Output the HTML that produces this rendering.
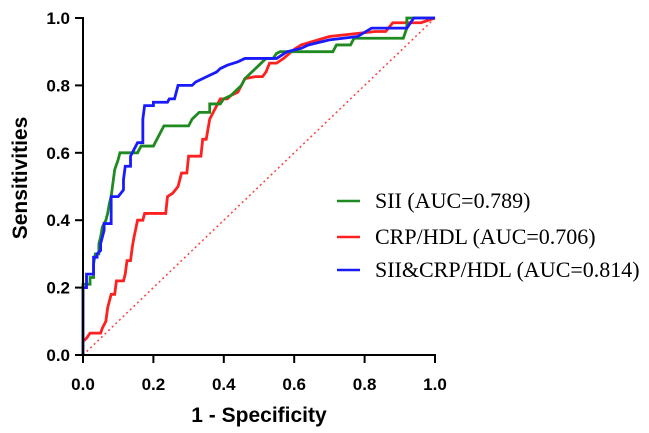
<!DOCTYPE html>
<html><head><meta charset="utf-8"><style>
html,body{margin:0;padding:0;background:#fff;}
svg{display:block;}
</style></head><body>
<svg id="chart" width="649" height="433" xmlns="http://www.w3.org/2000/svg">
<g id="plot"></g>
<g id="axes"></g>
<text x="259" y="422" text-anchor="middle" font-family="Liberation Sans, sans-serif" font-weight="bold" font-size="21">1 - Specificity</text>
<text transform="translate(27,178) rotate(-90)" text-anchor="middle" font-family="Liberation Sans, sans-serif" font-weight="bold" font-size="21">Sensitivities</text>
<g font-family="Liberation Serif, serif" font-size="22">
<g><line x1="337" y1="201" x2="360" y2="201" stroke="#1f8a1f" stroke-width="2.5"/><text x="375" y="208">SII (AUC=0.789)</text></g>
<g><line x1="337" y1="237" x2="360" y2="237" stroke="#ff2020" stroke-width="2.5"/><text x="375" y="244">CRP/HDL (AUC=0.706)</text></g>
<g><line x1="337" y1="270" x2="360" y2="270" stroke="#1a1aff" stroke-width="2.5"/><text x="375" y="277">SII&amp;CRP/HDL (AUC=0.814)</text></g>
</g>
</svg>
<script>
const ticks = [0, 0.2, 0.4, 0.6, 0.8, 1.0];
const tickLabels = ["0.0", "0.2", "0.4", "0.6", "0.8", "1.0"];
const siiFpr = [0,0,0.02,0.02,0.03,0.03,0.035,0.045,0.045,0.05,0.055,0.065,0.07,0.075,0.08,0.085,0.09,0.1,0.105,0.155,0.165,0.2,0.21,0.22,0.23,0.3,0.31,0.33,0.36,0.36,0.39,0.4,0.42,0.44,0.45,0.46,0.48,0.5,0.52,0.54,0.55,0.56,0.71,0.72,0.76,0.77,0.91,0.92,0.92,1];
const siiTpr = [0,0.21,0.21,0.23,0.23,0.27,0.30,0.30,0.33,0.35,0.38,0.40,0.42,0.45,0.47,0.51,0.55,0.58,0.60,0.60,0.62,0.62,0.64,0.66,0.68,0.68,0.70,0.72,0.72,0.745,0.745,0.76,0.77,0.79,0.80,0.82,0.84,0.86,0.88,0.88,0.895,0.90,0.90,0.92,0.92,0.94,0.94,0.97,1,1];
const crpFpr = [0,0,0.01,0.02,0.05,0.055,0.065,0.07,0.08,0.09,0.095,0.115,0.12,0.125,0.135,0.14,0.145,0.155,0.17,0.175,0.235,0.24,0.255,0.27,0.28,0.295,0.3,0.335,0.34,0.35,0.36,0.37,0.38,0.39,0.41,0.42,0.44,0.45,0.46,0.49,0.51,0.52,0.53,0.55,0.57,0.6,0.62,0.70,0.83,0.86,0.88,0.96,1];
const crpTpr = [0,0.04,0.05,0.065,0.065,0.08,0.10,0.14,0.18,0.18,0.22,0.22,0.24,0.28,0.28,0.32,0.35,0.40,0.40,0.42,0.42,0.47,0.48,0.50,0.54,0.54,0.59,0.59,0.64,0.64,0.70,0.72,0.74,0.76,0.76,0.77,0.78,0.80,0.82,0.826,0.826,0.84,0.866,0.866,0.88,0.907,0.92,0.945,0.96,0.96,0.986,0.986,1];
const comFpr = [0,0,0.01,0.01,0.03,0.03,0.04,0.04,0.05,0.05,0.055,0.06,0.06,0.08,0.08,0.1,0.115,0.115,0.12,0.135,0.135,0.145,0.155,0.17,0.17,0.175,0.2,0.2,0.24,0.245,0.26,0.265,0.27,0.31,0.32,0.34,0.36,0.38,0.39,0.41,0.44,0.46,0.55,0.58,0.62,0.64,0.70,0.78,0.82,0.92,0.94,1];
const comTpr = [0,0.2,0.2,0.24,0.24,0.29,0.29,0.30,0.31,0.33,0.35,0.37,0.39,0.39,0.47,0.47,0.49,0.52,0.56,0.56,0.59,0.61,0.63,0.63,0.70,0.74,0.74,0.75,0.75,0.76,0.76,0.78,0.80,0.80,0.81,0.82,0.83,0.84,0.85,0.86,0.87,0.88,0.88,0.90,0.91,0.92,0.935,0.945,0.97,0.97,1,1];

const NS = "http://www.w3.org/2000/svg";
const X0 = 83, XW = 352, Y0 = 355, YH = 337;
function xScale(v){ return X0 + v * XW; }
function yScale(v){ return Y0 - v * YH; }
const plot = document.getElementById('plot');
const axes = document.getElementById('axes');

const diag = document.createElementNS(NS, 'line');


diag.setAttribute('x1', xScale(0)); diag.setAttribute('y1', yScale(0));
diag.setAttribute('x2', xScale(1)); diag.setAttribute('y2', yScale(1));
diag.setAttribute('stroke', '#ff4040'); diag.setAttribute('stroke-width', '1.5');
diag.setAttribute('stroke-dasharray', '2,3');
plot.appendChild(diag);

function drawCurve(fpr, tpr, color, name){
  const p = document.createElementNS(NS, 'polyline');
  
  
  p.setAttribute('points', fpr.map((f,i)=>xScale(f)+','+yScale(tpr[i])).join(' '));
  p.setAttribute('fill', 'none'); p.setAttribute('stroke', color);
  p.setAttribute('stroke-width', '2.8'); p.setAttribute('stroke-linejoin', 'miter');
  plot.appendChild(p);
}
drawCurve(crpFpr, crpTpr, '#ff2020', 'curve-crp-hdl');
drawCurve(siiFpr, siiTpr, '#1f8a1f', 'curve-sii');
drawCurve(comFpr, comTpr, '#1a1aff', 'curve-combined');

const xa = document.createElementNS(NS, 'path');


xa.setAttribute('d', `M${X0-8},${Y0} H${xScale(1)+1}`);
xa.setAttribute('stroke', '#000'); xa.setAttribute('stroke-width', '2');
axes.appendChild(xa);
const ya = document.createElementNS(NS, 'path');


ya.setAttribute('d', `M${X0},${Y0+8} V${yScale(1)-1}`);
ya.setAttribute('stroke', '#000'); ya.setAttribute('stroke-width', '2');
axes.appendChild(ya);

ticks.forEach((t,i)=>{
  const tx = document.createElementNS(NS, 'line');
  
  
  tx.setAttribute('x1', xScale(t)); tx.setAttribute('x2', xScale(t));
  tx.setAttribute('y1', Y0); tx.setAttribute('y2', Y0+8);
  tx.setAttribute('stroke', '#000'); tx.setAttribute('stroke-width', '2');
  axes.appendChild(tx);
  const lx = document.createElementNS(NS, 'text');
  
  
  lx.setAttribute('x', xScale(t)); lx.setAttribute('y', Y0+35);
  lx.setAttribute('text-anchor', 'middle');
  lx.setAttribute('font-family', 'Liberation Sans, sans-serif');
  lx.setAttribute('font-weight', 'bold'); lx.setAttribute('font-size', '17');
  lx.textContent = tickLabels[i];
  axes.appendChild(lx);
  const ty = document.createElementNS(NS, 'line');
  
  
  ty.setAttribute('x1', X0-8); ty.setAttribute('x2', X0);
  ty.setAttribute('y1', yScale(t)); ty.setAttribute('y2', yScale(t));
  ty.setAttribute('stroke', '#000'); ty.setAttribute('stroke-width', '2');
  axes.appendChild(ty);
  const ly = document.createElementNS(NS, 'text');
  
  
  ly.setAttribute('x', X0-13); ly.setAttribute('y', yScale(t)+6);
  ly.setAttribute('text-anchor', 'end');
  ly.setAttribute('font-family', 'Liberation Sans, sans-serif');
  ly.setAttribute('font-weight', 'bold'); ly.setAttribute('font-size', '17');
  ly.textContent = tickLabels[i];
  axes.appendChild(ly);
});
</script>
</body></html>
